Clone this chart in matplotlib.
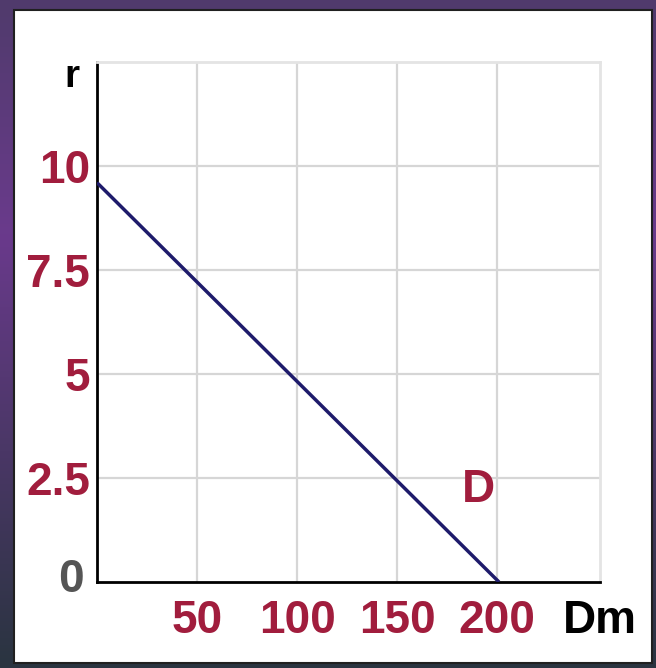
import numpy as np
import matplotlib.pyplot as plt
from matplotlib.patches import Rectangle

# demand line D: r against Dm
dm = [0, 201]
r = [9.6, 0]
x_ticks = [50, 100, 150, 200]
y_ticks = [2.5, 5, 7.5, 10]
y_labels = ['2.5', '5', '7.5', '10']

W, H = 656, 668
red = '#a11d3d'
fam = ['Liberation Sans', 'DejaVu Sans']
fs = 33

fig = plt.figure(figsize=(W / 100, H / 100), dpi=100)

# purple frame behind the white panel
bg = fig.add_axes([0, 0, 1, 1], zorder=-10)
gy, gx = np.mgrid[0:1:200j, 0:1:200j]
top = np.array([0x50, 0x3a, 0x6c]) / 255
mid = np.array([0x6a, 0x3a, 0x8c]) / 255
bot = np.array([0x2a, 0x34, 0x40]) / 255
t = gy[..., None]
img = np.where(t < 0.35, top + (mid - top) * (t / 0.35), mid + (bot - mid) * ((t - 0.35) / 0.65))
bg.imshow(img, extent=[0, 1, 0, 1], origin='upper', aspect='auto')
bg.add_patch(Rectangle((14 / W, 1 - 663 / H), 638 / W, 653 / H, facecolor='white',
                       edgecolor='#202020', linewidth=1.5))
bg.set_xlim(0, 1)
bg.set_ylim(0, 1)
bg.axis('off')

ax = fig.add_axes([97 / W, (H - 582) / H, (600 - 97) / W, (582 - 62) / H])
ax.set_facecolor('none')
ax.plot(dm, r, color='#1e1b6b', linewidth=2.5, solid_capstyle='butt', zorder=3)

ax.set_xlim(0, 251.5)
ax.set_ylim(0, 12.5)
ax.set_xticks(x_ticks)
ax.set_yticks(y_ticks)
ax.set_yticklabels(y_labels)
ax.grid(True, color='#d6d6d6', linewidth=1.6)
ax.tick_params(length=0, labelcolor=red, labelsize=fs)
ax.tick_params(axis='x', pad=12)
ax.tick_params(axis='y', pad=5)
for lab in ax.get_xticklabels() + ax.get_yticklabels():
    lab.set_family(fam)
    lab.set_fontweight('bold')

for s in ['left', 'bottom']:
    ax.spines[s].set_color('black')
    ax.spines[s].set_linewidth(2)
for s in ['top', 'right']:
    ax.spines[s].set_color('#e4e4e4')
    ax.spines[s].set_linewidth(2)

ax.text(190.5, 2.2, 'D', color=red, fontsize=fs, fontweight='bold', family=fam,
        ha='center', va='center')

fig.text(71 / W, 1 - 580 / H, '0', color='#555555', fontsize=fs, fontweight='bold',
         family=fam, ha='center', va='center')
fig.text(600 / W, 1 - 621 / H, 'Dm', color='black', fontsize=fs, fontweight='bold',
         family=fam, ha='center', va='center')
fig.text(72 / W, 1 - 77 / H, 'r', color='black', fontsize=28, fontweight='bold',
         family=fam, ha='center', va='center')

plt.savefig('out.png', dpi=100)
